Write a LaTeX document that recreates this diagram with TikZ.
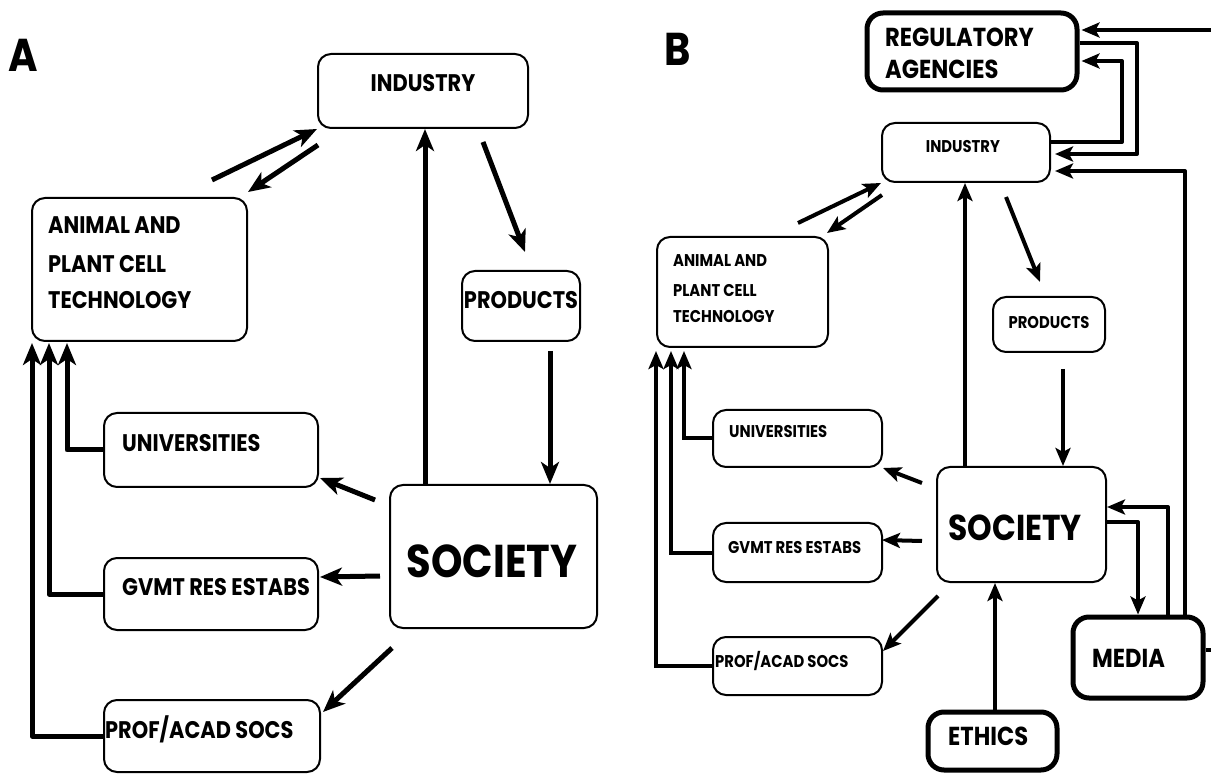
\documentclass[tikz,border=0pt]{standalone}
\usepackage{fontspec}
\setmainfont{Poppins}[FakeStretch=0.87]
\usetikzlibrary{arrows.meta}
\begin{document}
\begin{tikzpicture}[x=1pt,y=-1pt,
  boxa/.style={draw, line width=2pt, rounded corners=13pt, inner sep=0pt},
  boxt/.style={draw, line width=5pt, rounded corners=16pt, inner sep=0pt},
  txt/.style={inner sep=0pt, font=\fontsize{24}{24}\selectfont\bfseries},
  txtbig/.style={inner sep=0pt, font=\fontsize{46}{46}\selectfont\bfseries},
  txts/.style={inner sep=0pt, font=\fontsize{17}{17}\selectfont\bfseries},
  txtm/.style={inner sep=0pt, font=\fontsize{26}{26}\selectfont\bfseries},
  txtsoc/.style={inner sep=0pt, font=\fontsize{36}{36}\selectfont\bfseries},
  arra/.style={line width=5pt, -{Stealth[length=22pt,width=18pt,inset=6pt]}},
  arrb/.style={line width=4pt, -{Stealth[length=18pt,width=15pt,inset=4pt]}},
]
\useasboundingbox (0,0) rectangle (1211,775);
\clip (0,0) rectangle (1211,775);
\newcommand{\bx}[6]{\node[#6, minimum width={#4-#2}, minimum height={#5-#3}] (#1) at ({(#2+#4)/2},{(#3+#5)/2}) {};}

% ---------------- Panel A ----------------
\node[txtbig, anchor=base west] (labA) at (8,72) {A};
\bx{indA}{318}{54}{528}{128}{boxa}
\node[txt, anchor=base] (tindA) at (423,92) {INDUSTRY};
\bx{animA}{32}{198}{247}{341}{boxa}
\node[txt, anchor=base west] (tanimA1) at (48,234) {ANIMAL AND};
\node[txt, anchor=base west] (tanimA2) at (48,273) {PLANT CELL};
\node[txt, anchor=base west] (tanimA3) at (48,309) {TECHNOLOGY};
\bx{prodA}{462}{271}{580}{341}{boxa}
\node[txt, anchor=base] (tprodA) at (521,309) {PRODUCTS};
\bx{socA}{390}{485}{597}{628}{boxa}
\node[txtbig, anchor=base] (tsocA) at (492,577) {SOCIETY};
\bx{uniA}{104}{413}{318}{487}{boxa}
\node[txt, anchor=base west] (tuniA) at (122,452) {UNIVERSITIES};
\bx{gvA}{104}{558}{318}{630}{boxa}
\node[txt, anchor=base west] (tgvA) at (122,595) {GVMT RES ESTABS};
\bx{prA}{104}{700}{320}{772}{boxa}
\node[txt, anchor=base west] (tprA) at (105,738) {PROF/ACAD SOCS};

\draw[arra] (socA.north -| 425,0) -- (indA.south -| 425,0);
\draw[arra] (prodA.south -| 550,0) ++(0,9) -- (socA.north -| 550,0);
\coordinate (ipA1) at (483,142);
\coordinate (ipA2) at (525,252);
\draw[arra] (ipA1) -- (ipA2);
\coordinate (aiA1) at (212,180);
\draw[arra] (aiA1) -- (indA.south west);
\coordinate (iaA1) at (318,145);
\coordinate (iaA2) at (248,192);
\draw[arra] (iaA1) -- (iaA2);
\coordinate (suA1) at (375,500);
\coordinate (suA2) at (320,478);
\draw[arra] (suA1) -- (suA2);
\coordinate (sgA1) at (380,576);
\coordinate (sgA2) at (320,577);
\draw[arra] (sgA1) -- (sgA2);
\coordinate (spA1) at (392,648);
\coordinate (spA2) at (323,712);
\draw[arra] (spA1) -- (spA2);

\draw[arra, line join=round] (uniA.west) -| ([xshift=36pt,yshift=-1pt]animA.south west);
\draw[arra, line join=round] (gvA.west) -| ([xshift=18pt,yshift=-1pt]animA.south west);
\draw[arra, line join=round] (prA.west) -| ([xshift=1pt,yshift=-1pt]animA.south west);

% ---------------- Panel B ----------------
\node[txtbig, anchor=base west] (labB) at (664,66) {B};
\bx{regB}{867}{13}{1077}{90}{boxt}
\node[txtm, anchor=base west] (tregB1) at (885,47) {REGULATORY};
\node[txtm, anchor=base west] (tregB2) at (885,79) {AGENCIES};
\bx{indB}{882}{123}{1050}{182}{boxa}
\node[txts, anchor=base] (tindB) at (963,153) {INDUSTRY};
\bx{animB}{657}{237}{828}{347}{boxa}
\node[txts, anchor=base west] (tanimB1) at (673,267) {ANIMAL AND};
\node[txts, anchor=base west] (tanimB2) at (673,297) {PLANT CELL};
\node[txts, anchor=base west] (tanimB3) at (673,323) {TECHNOLOGY};
\bx{prodB}{993}{297}{1105}{352}{boxa}
\node[txts, anchor=base] (tprodB) at (1049,329) {PRODUCTS};
\bx{socB}{937}{467}{1106}{582}{boxa}
\node[txtsoc, anchor=base] (tsocB) at (1015,540) {SOCIETY};
\bx{uniB}{713}{410}{882}{467}{boxa}
\node[txts, anchor=base west] (tuniB) at (729,438) {UNIVERSITIES};
\bx{gvB}{713}{523}{882}{582}{boxa}
\node[txts, anchor=base west] (tgvB) at (728,553) {GVMT RES ESTABS};
\bx{prB}{713}{637}{882}{695}{boxa}
\node[txts, anchor=base west] (tprB) at (715,667) {PROF/ACAD SOCS};
\bx{medB}{1073}{617}{1203}{698}{boxt}
\node[txtm, anchor=base west] (tmedB) at (1092,667) {MEDIA};
\bx{ethB}{928}{712}{1057}{770}{boxt}
\node[txtm, anchor=base west] (tethB) at (948,745) {ETHICS};

% top right loops
\draw[arrb, line join=round] (medB.east |- 0,650) -- (1222,650) |- ([xshift=2pt]regB.east |- 0,30);
\draw[arrb, line join=round] (regB.east |- 0,43) -- (1137,43) |- ([xshift=4pt]indB.east |- 0,154);
\draw[arrb, line join=round] (indB.east |- 0,142) -- (1122,142) |- ([xshift=2pt]regB.east |- 0,61);
\draw[arrb, line join=round] (medB.north -| 1185,0) |- ([xshift=4pt]indB.east |- 0,171);

\coordinate (aiB1) at (798,223);
\draw[arrb] (aiB1) -- (indB.south west);
\coordinate (iaB1) at (882,195);
\coordinate (iaB2) at (827,233);
\draw[arrb] (iaB1) -- (iaB2);
\coordinate (ipB1) at (1006,197);
\coordinate (ipB2) at (1040,282);
\draw[arrb] (ipB1) -- (ipB2);
\draw[arrb] ([yshift=-16pt]prodB.south -| 1063,0) -- (socB.north -| 1063,0);
\draw[arrb] (socB.north -| 965,0) -- (indB.south -| 965,0);
\draw[arrb] (ethB.north -| 995,0) -- (socB.south -| 995,0);
\draw[arrb, line join=round] (socB.east |- 0,522) -| (medB.north -| 1138,0);
\draw[arrb, line join=round] (medB.north -| 1168,0) |- (socB.east |- 0,507);

\coordinate (suB1) at (922,483);
\draw[arrb] (suB1) -- (uniB.south east);
\coordinate (sgB1) at (922,541);
\coordinate (sgB2) at (882,540);
\draw[arrb] (sgB1) -- (sgB2);
\coordinate (spB1) at (938,596);
\coordinate (spB2) at (883,651);
\draw[arrb] (spB1) -- (spB2);

\draw[arrb] (uniB.west) -| ([xshift=28pt,yshift=-3pt]animB.south west);
\draw[arrb] (gvB.west) -| ([xshift=15pt,yshift=-3pt]animB.south west);
\draw[arrb] (prB.west) -| ([xshift=0pt,yshift=-3pt]animB.south west);
\end{tikzpicture}
\end{document}
